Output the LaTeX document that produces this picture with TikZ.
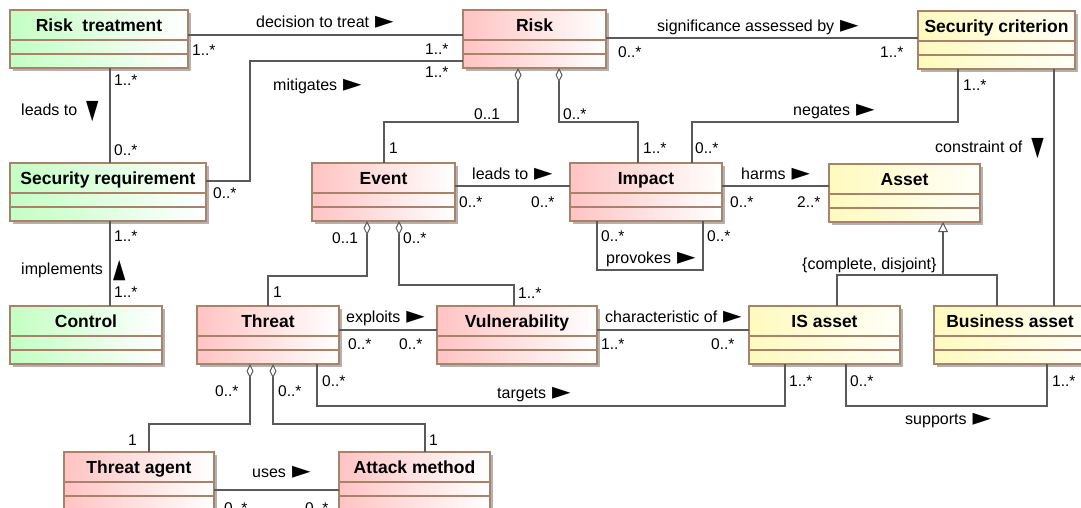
\documentclass[tikz,border=0pt]{standalone}
\usepackage{fontspec}
\setmainfont{Liberation Sans}
\newfontfamily\symfont{DejaVu Sans}
\usetikzlibrary{arrows.meta,shadows,calc}
\definecolor{pinkc}{RGB}{255,195,195}
\definecolor{greenc}{RGB}{195,255,195}
\definecolor{yellowc}{RGB}{255,250,190}
\definecolor{bordc}{RGB}{168,130,105}
\definecolor{linec}{RGB}{90,90,90}
\newcommand{\rtri}{\hspace{6pt}\raisebox{-1pt}{\symfont\fontsize{24}{24}\selectfont ►}}
\newcommand{\dtri}{\hspace{9pt}\raisebox{-3pt}{\scalebox{0.85}[1.4]{\symfont\fontsize{19}{19}\selectfont ▼}}}
\newcommand{\utri}{\hspace{10pt}\raisebox{-3pt}{\scalebox{0.85}[1.4]{\symfont\fontsize{19}{19}\selectfont ▲}}}
\tikzset{
  classbox/.style={draw=bordc, line width=1.2pt, inner sep=0pt, outer sep=0pt,
    drop shadow={shadow xshift=3pt, shadow yshift=-3pt, opacity=0.3, fill=black}},
  pinkbox/.style={left color=pinkc, right color=white},
  greenbox/.style={left color=greenc, right color=white},
  yellowbox/.style={left color=yellowc, right color=white!97!yellow},
  titletext/.style={font=\fontsize{17.5}{19}\selectfont\bfseries, inner sep=0pt, text height=16pt, text depth=3.5pt},
  lbl/.style={font=\fontsize{16}{18}\selectfont, inner sep=0pt, anchor=west, text height=14.5pt, text depth=3pt},
  mult/.style={font=\fontsize{15.5}{17}\selectfont, inner sep=0pt, anchor=west, text height=14pt, text depth=3pt},
  conn/.style={draw=linec, line width=1.1pt},
  agg/.style={conn, arrows={{Diamond[open, length=14pt, width=7pt, line width=1pt]}-}},
  gen/.style={conn, arrows={-{Triangle[open, length=10pt, width=10pt, line width=1pt]}}},
  compline/.style={draw=bordc, line width=1.1pt}
}
\newcommand{\umlclass}[7]{%
  \node[classbox, #7, anchor=north west, minimum width=#4pt-#2pt, minimum height=#5pt-#3pt] (#1) at (#2,#3) {};
  \draw[compline] ([yshift=-30pt]#1.north west) -- ([yshift=-30pt]#1.north east);
  \draw[compline] ([yshift=-44pt]#1.north west) -- ([yshift=-44pt]#1.north east);
  \node[titletext] (#1-title) at ([yshift=-15pt]#1.north) {#6};
}
\begin{document}
\begin{tikzpicture}[x=1pt, y=-1pt]
\clip (0,0) rectangle (1081,507);
\fill[white] (0,0) rectangle (1081,507);

% classes
\umlclass{rt}{10}{10}{188}{68}{Risk\ \ treatment}{greenbox}
\umlclass{risk}{463}{10}{606}{68}{Risk}{pinkbox}
\umlclass{sc}{918}{11}{1075}{69}{Security criterion}{yellowbox}
\umlclass{sr}{10}{163}{206}{221}{Security requirement}{greenbox}
\umlclass{event}{312}{163}{455}{221}{Event}{pinkbox}
\umlclass{impact}{570}{163}{722}{221}{Impact}{pinkbox}
\umlclass{asset}{829}{164}{980}{222}{Asset}{yellowbox}
\umlclass{control}{10}{306}{162}{364}{Control}{greenbox}
\umlclass{threat}{197}{306}{339}{364}{Threat}{pinkbox}
\umlclass{vuln}{437}{306}{597}{364}{Vulnerability}{pinkbox}
\umlclass{isa}{749}{306}{900}{364}{IS asset}{yellowbox}
\umlclass{ba}{934}{306}{1086}{364}{Business asset}{yellowbox}
\umlclass{ta}{64}{452}{214}{510}{Threat agent}{pinkbox}
\umlclass{am}{339}{452}{490}{510}{Attack method}{pinkbox}

% connectors
\draw[conn] (rt.east |- 0,35) -- (risk.west |- 0,35);
\draw[conn] (sr.east |- 0,181) -- (250,181) -- (250,61) -- (risk.west |- 0,61);
\draw[conn] (rt.south -| 110,0) -- (sr.north -| 110,0);
\draw[conn] (sr.south -| 110,0) -- (control.north -| 110,0);
\draw[agg] (risk.south -| 518,0) -- (518,122) -- (384,122) -- (event.north -| 384,0);
\draw[agg] (risk.south -| 559,0) -- (559,122) -- (638,122) -- (impact.north -| 638,0);
\draw[conn] (sc.south -| 958,0) -- (958,122) -- (692,122) -- (impact.north -| 692,0);
\draw[conn] (risk.east |- 0,38) -- (sc.west |- 0,38);
\draw[conn] (sc.south -| 1054,0) -- (ba.north -| 1054,0);
\draw[conn] (event.east |- 0,186) -- (impact.west |- 0,186);
\draw[conn] (impact.south -| 597,0) -- (597,270) -- (703,270) -- (impact.south -| 703,0);
\draw[conn] (impact.east |- 0,186) -- (asset.west |- 0,186);
\draw[agg] (event.south -| 367,0) -- (367,276) -- (268,276) -- (threat.north -| 268,0);
\draw[agg] (event.south -| 399,0) -- (399,285) -- (514,285) -- (vuln.north -| 514,0);
\draw[conn] (threat.east |- 0,330) -- (vuln.west |- 0,330);
\draw[conn] (vuln.east |- 0,330) -- (isa.west |- 0,330);
\draw[conn] (threat.south -| 317,0) -- (317,406) -- (785,406) -- (isa.south -| 785,0);
\draw[conn] (isa.south -| 846,0) -- (846,406) -- (1047,406) -- (ba.south -| 1047,0);
\coordinate (genj) at (943,275);
\draw[gen] (isa.north -| 837,0) -- (837,275) -- (genj) -- (asset.south -| genj);
\draw[conn] (ba.north -| 997,0) -- (997,275) -- (genj);
\draw[agg] (threat.south -| 250,0) -- (250,424) -- (149,424) -- (ta.north -| 149,0);
\draw[agg] (threat.south -| 273,0) -- (273,424) -- (425,424) -- (am.north -| 425,0);
\draw[conn] (ta.east |- 0,490) -- (am.west |- 0,490);

% association labels
\node[lbl] (l-dec) at (256,22) {decision to treat\rtri};
\node[lbl] (l-mit) at (273,85) {mitigates\rtri};
\node[lbl] (l-lead1) at (21,110) {leads to\dtri};
\node[lbl] (l-impl) at (21,269) {implements\utri};
\node[lbl] (l-sig) at (657,26) {significance assessed by\rtri};
\node[lbl] (l-neg) at (793,110) {negates\rtri};
\node[lbl] (l-con) at (935,147) {constraint of\dtri};
\node[lbl] (l-lead2) at (472,174) {leads to\rtri};
\node[lbl] (l-harm) at (741,174) {harms\rtri};
\node[lbl] (l-prov) at (606,258) {provokes\rtri};
\node[lbl] (l-cd) at (802,264) {\{complete, disjoint\}};
\node[lbl] (l-expl) at (346,317) {exploits\rtri};
\node[lbl] (l-char) at (605,317) {characteristic of\rtri};
\node[lbl] (l-targ) at (497,393) {targets\rtri};
\node[lbl] (l-supp) at (905,419) {supports\rtri};
\node[lbl] (l-uses) at (252,472) {uses\rtri};

% multiplicities
\node[mult] (m1) at (192,50) {1..*};
\node[mult] (m2) at (425,49) {1..*};
\node[mult] (m3) at (425,72) {1..*};
\node[mult] (m4) at (213,193) {0..*};
\node[mult] (m5) at (114,80) {1..*};
\node[mult] (m6) at (114,150) {0..*};
\node[mult] (m7) at (114,236) {1..*};
\node[mult] (m8) at (114,292) {1..*};
\node[mult] (m9) at (474,114) {0..1};
\node[mult] (m10) at (389,148) {1};
\node[mult] (m11) at (563,114) {0..*};
\node[mult] (m12) at (643,148) {1..*};
\node[mult] (m13) at (695,148) {0..*};
\node[mult] (m14) at (963,85) {1..*};
\node[mult] (m15) at (618,52) {0..*};
\node[mult] (m16) at (880,52) {1..*};
\node[mult] (m17) at (459,202) {0..*};
\node[mult] (m18) at (531,202) {0..*};
\node[mult] (m19) at (601,236) {0..*};
\node[mult] (m20) at (707,236) {0..*};
\node[mult] (m21) at (730,202) {0..*};
\node[mult] (m22) at (797,202) {2..*};
\node[mult] (m23) at (332,238) {0..1};
\node[mult] (m24) at (273,292) {1};
\node[mult] (m25) at (403,238) {0..*};
\node[mult] (m26) at (518,293) {1..*};
\node[mult] (m27) at (348,344) {0..*};
\node[mult] (m28) at (399,344) {0..*};
\node[mult] (m29) at (601,344) {1..*};
\node[mult] (m30) at (711,344) {0..*};
\node[mult] (m31) at (322,381) {0..*};
\node[mult] (m32) at (789,381) {1..*};
\node[mult] (m33) at (850,381) {0..*};
\node[mult] (m34) at (1052,381) {1..*};
\node[mult] (m35) at (215,391) {0..*};
\node[mult] (m36) at (278,391) {0..*};
\node[mult] (m37) at (128,440) {1};
\node[mult] (m38) at (429,440) {1};
\node[mult] (m39) at (224,508) {0..*};
\node[mult] (m40) at (305,508) {0..*};
\end{tikzpicture}
\end{document}
